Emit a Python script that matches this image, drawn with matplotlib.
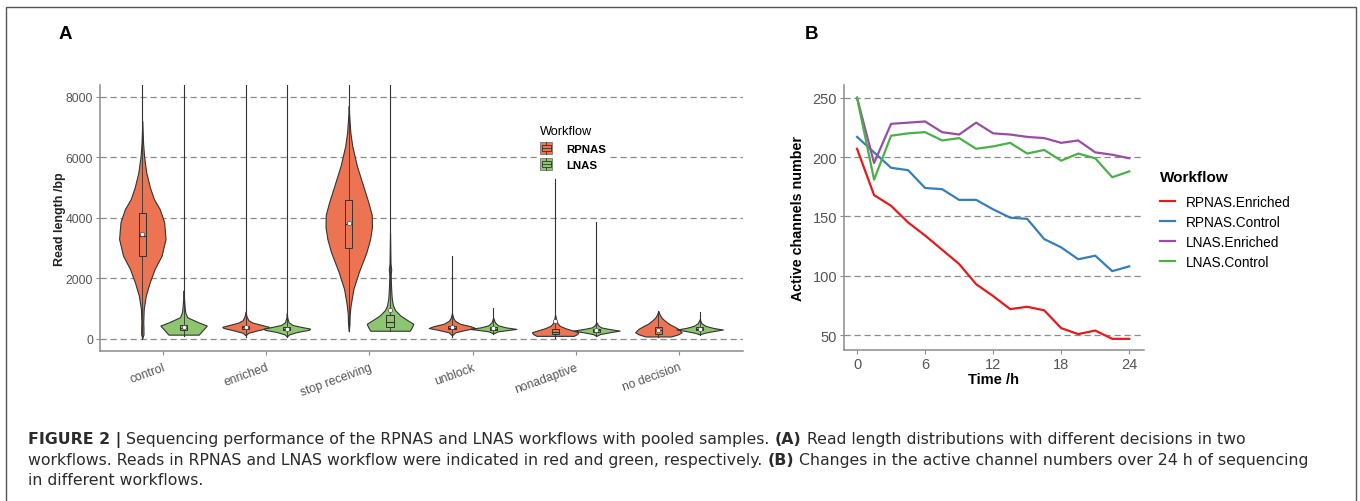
import matplotlib
matplotlib.use("Agg")
import matplotlib.pyplot as plt
from matplotlib.patches import Rectangle
from matplotlib.lines import Line2D
from matplotlib.legend_handler import HandlerBase

plt.rcParams['font.family'] = ['Liberation Sans', 'DejaVu Sans']

# ---- panel A: read length violins ----
categories = ["control", "enriched", "stop receiving", "unblock", "nonadaptive", "no decision"]

# violin outlines: (read length, relative half width)
control_rpnas = [(30, 0), (150, 0.05), (330, 0.05), (550, 0.04), (990, 0.06), (1430, 0.15), (1870, 0.32),
                 (2310, 0.53), (2750, 0.83), (3300, 1.0), (3860, 0.94), (4290, 0.75), (4620, 0.5),
                 (5000, 0.33), (5500, 0.17), (6000, 0.08), (6500, 0.03), (7200, 0)]
control_lnas = [(140, 0), (140, 0.65), (440, 1.0), (560, 0.6), (715, 0.16), (850, 0.08), (1000, 0.05),
                (1300, 0.02), (1600, 0)]
enriched_rpnas = [(120, 0), (200, 0.12), (280, 0.5), (360, 0.95), (400, 1.0), (460, 0.7), (540, 0.3),
                  (620, 0.12), (750, 0.04), (900, 0)]
enriched_lnas = [(80, 0), (150, 0.1), (230, 0.45), (300, 0.95), (340, 1.0), (400, 0.6), (460, 0.25),
                 (550, 0.08), (700, 0.02), (850, 0)]
stop_rpnas = [(250, 0), (500, 0.03), (800, 0.04), (1100, 0.08), (1650, 0.2), (2200, 0.43), (2860, 0.76),
              (3300, 0.92), (3700, 1.0), (4100, 0.99), (4500, 0.85), (5060, 0.62), (5720, 0.35),
              (6380, 0.15), (6820, 0.07), (7370, 0.02), (7700, 0)]
stop_lnas = [(270, 0), (270, 0.85), (400, 0.95), (500, 1.0), (620, 0.75), (770, 0.45), (950, 0.22),
             (1100, 0.13), (1300, 0.08), (1500, 0.06), (1800, 0.04), (2100, 0.03), (2300, 0.05),
             (2500, 0.02), (3000, 0.01), (3500, 0)]
unblock_rpnas = [(120, 0), (220, 0.15), (300, 0.6), (360, 1.0), (420, 0.8), (500, 0.35), (600, 0.13),
                 (700, 0.05), (850, 0)]
unblock_lnas = [(180, 0), (250, 0.2), (300, 0.7), (330, 1.0), (380, 0.55), (450, 0.2), (550, 0.07), (700, 0)]
nonadaptive_rpnas = [(100, 0), (100, 0.8), (160, 0.95), (220, 1.0), (280, 0.75), (350, 0.45), (430, 0.2),
                     (520, 0.1), (650, 0.04), (800, 0)]
nonadaptive_lnas = [(100, 0), (160, 0.15), (230, 0.65), (275, 1.0), (320, 0.6), (380, 0.2), (450, 0.07),
                    (550, 0)]
nodecision_rpnas = [(80, 0), (80, 0.55), (150, 0.85), (220, 1.0), (330, 0.86), (420, 0.65), (500, 0.45),
                    (600, 0.28), (700, 0.14), (800, 0.06), (920, 0)]
nodecision_lnas = [(150, 0), (200, 0.2), (260, 0.6), (310, 1.0), (360, 0.6), (430, 0.25), (520, 0.08),
                   (650, 0)]

rpnas_profiles = [control_rpnas, enriched_rpnas, stop_rpnas, unblock_rpnas, nonadaptive_rpnas, nodecision_rpnas]
lnas_profiles = [control_lnas, enriched_lnas, stop_lnas, unblock_lnas, nonadaptive_lnas, nodecision_lnas]

# line through each violin (whiskers + outliers)
rpnas_min = [10, 60, 250, 70, 40, 60]
rpnas_max = [9000, 9000, 9000, 2750, 5300, 920]
lnas_min = [100, 70, 250, 150, 90, 120]
lnas_max = [9000, 9000, 9000, 1010, 3850, 890]

# box statistics
rpnas_q1 = [2750, 320, 3000, 320, 160, 170]
rpnas_med = [3400, 380, 3800, 370, 240, 280]
rpnas_q3 = [4150, 440, 4600, 430, 340, 400]
rpnas_mean = [3450, 390, 3840, 380, 600, 310]
lnas_q1 = [300, 280, 380, 290, 240, 280]
lnas_med = [370, 330, 550, 330, 280, 320]
lnas_q3 = [450, 380, 800, 380, 330, 380]
lnas_mean = [400, 340, 940, 350, 290, 330]

# ---- panel B: active channels over time ----
time_h = [0, 1.5, 3, 4.5, 6, 7.5, 9, 10.5, 12, 13.5, 15, 16.5, 18, 19.5, 21, 22.5, 24]
rpnas_enriched = [207, 168, 159, 145, 134, 122, 110, 93, 83, 72, 74, 71, 56, 51, 54, 47, 47]
rpnas_control = [217, 204, 191, 189, 174, 173, 164, 164, 156, 149, 148, 131, 124, 114, 117, 104, 108]
lnas_enriched = [250, 195, 228, 229, 230, 221, 219, 229, 220, 219, 217, 216, 212, 214, 204, 202, 199]
lnas_control = [250, 181, 218, 220, 221, 214, 216, 207, 209, 212, 203, 206, 197, 203, 199, 183, 188]

RED = "#EC7452"
GREEN = "#8DC570"
EDGE = "#333333"
GRID = "#8a8a8a"
TICK = "#555555"
SPINE = "#8c8c8c"

W, H = 1360, 502
fig = plt.figure(figsize=(W / 100, H / 100), dpi=100)

# outer frame of the figure
fig.patches.append(Rectangle((6 / W, -0.02), 1350 / W, 1.02 - 8 / H, transform=fig.transFigure,
                             fill=False, edgecolor="#555555", lw=1.0))


def style_axes(ax, labelsize):
    for s in ["top", "right"]:
        ax.spines[s].set_visible(False)
    for s in ["left", "bottom"]:
        ax.spines[s].set_color(SPINE)
        ax.spines[s].set_linewidth(1.1)
    ax.tick_params(colors=SPINE, labelcolor=TICK, labelsize=labelsize, length=3, width=0.8, pad=2)
    ax.yaxis.grid(True, color=GRID, linestyle=(0, (5, 3)), linewidth=0.9)
    ax.set_axisbelow(True)


# ---------- A ----------
axA = fig.add_axes([100 / W, 1 - 352 / H, 643 / W, 266 / H])
style_axes(axA, 8.7)

half = 0.225
bw = 0.035
groups = [
    (-0.2, RED, rpnas_profiles, rpnas_min, rpnas_max, rpnas_q1, rpnas_med, rpnas_q3, rpnas_mean),
    (0.2, GREEN, lnas_profiles, lnas_min, lnas_max, lnas_q1, lnas_med, lnas_q3, lnas_mean),
]
for off, col, profs, tmin, tmax, q1, med, q3, mean in groups:
    for i, prof in enumerate(profs):
        xc = i + off
        ys = [p[0] for p in prof]
        ws = [p[1] * half for p in prof]
        axA.plot([xc, xc], [tmin[i], tmax[i]], color=EDGE, lw=0.8, zorder=2.5)
        axA.fill_betweenx(ys, [xc - w for w in ws], [xc + w for w in ws],
                          facecolor=col, edgecolor=EDGE, lw=0.8, zorder=3)
        axA.plot([xc, xc], [ys[0], ys[-1]], color=EDGE, lw=0.6, zorder=3.5)
        axA.bar(xc, q3[i] - q1[i], bottom=q1[i], width=2 * bw, color=col,
                edgecolor=EDGE, lw=0.7, zorder=4)
        axA.plot([xc - bw, xc + bw], [med[i], med[i]], color=EDGE, lw=0.8, zorder=4.5)
        axA.scatter([xc], [mean[i]], s=9, c="white", edgecolors=EDGE, linewidths=0.4, zorder=5)

axA.set_xlim(-0.61, 5.62)
axA.set_ylim(-400, 8390)
axA.set_yticks([0, 2000, 4000, 6000, 8000])
axA.set_xticks(range(len(categories)))
axA.set_xticklabels(categories, rotation=20, ha="right", rotation_mode="anchor")
axA.tick_params(axis="x", pad=4)
axA.set_ylabel("Read length /bp", fontsize=9, fontweight="bold", color="#222222", labelpad=0)


class BoxKey(HandlerBase):
    def create_artists(self, legend, orig_handle, xdescent, ydescent, width, height, fontsize, trans):
        fc = orig_handle.get_facecolor()
        x0, y0 = -xdescent, -ydescent
        outer = Rectangle((x0, y0), width, height, facecolor=fc, edgecolor="#777777", lw=0.6, transform=trans)
        whisk = Line2D([x0 + width / 2] * 2, [y0, y0 + height], color=EDGE, lw=0.6, transform=trans)
        box = Rectangle((x0 + width * 0.15, y0 + height * 0.22), width * 0.7, height * 0.56,
                        facecolor=fc, edgecolor=EDGE, lw=0.6, transform=trans)
        med = Line2D([x0 + width * 0.15, x0 + width * 0.85], [y0 + height / 2] * 2,
                     color=EDGE, lw=0.6, transform=trans)
        return [outer, whisk, box, med]


hA = [Rectangle((0, 0), 1, 1, facecolor=RED), Rectangle((0, 0), 1, 1, facecolor=GREEN)]
legA = fig.legend(hA, ["RPNAS", "LNAS"], handler_map={Rectangle: BoxKey()},
                  loc="upper left", bbox_to_anchor=(537 / W, 1 - 123 / H),
                  title="Workflow", title_fontsize=9.2, prop={"weight": "bold", "size": 8.2},
                  alignment="left", frameon=True, facecolor="white", edgecolor="none", fancybox=False,
                  handlelength=1.05, handleheight=1.2, handletextpad=1.2, labelspacing=0.4,
                  borderpad=0.3, borderaxespad=0)
legA.get_frame().set_alpha(1)

# ---------- B ----------
axB = fig.add_axes([844 / W, 1 - 351 / H, 300 / W, 265 / H])
style_axes(axB, 10.5)
series = [
    ("RPNAS.Enriched", rpnas_enriched, "#E41A1C"),
    ("RPNAS.Control", rpnas_control, "#377EB8"),
    ("LNAS.Enriched", lnas_enriched, "#984EA3"),
    ("LNAS.Control", lnas_control, "#4DAF4A"),
]
for name, vals, col in series:
    axB.plot(time_h, vals, color=col, lw=1.6, label=name, zorder=3)
axB.set_xlim(-1.15, 25.3)
axB.set_ylim(37.6, 260.7)
axB.set_xticks([0, 6, 12, 18, 24])
axB.set_yticks([50, 100, 150, 200, 250])
axB.set_xlabel("Time /h", fontsize=10.5, fontweight="bold", labelpad=1)
axB.set_ylabel("Active channels number", fontsize=10.3, fontweight="bold", labelpad=5)
legB = axB.legend(loc="upper left", bbox_to_anchor=(1157 / W, 1 - 168 / H),
                  bbox_transform=fig.transFigure, title="Workflow",
                  title_fontproperties={"weight": "bold", "size": 11}, fontsize=9.8,
                  alignment="left", frameon=False, handlelength=1.1, handletextpad=0.8,
                  labelspacing=0.45, borderpad=0.2, borderaxespad=0)
legB._legend_box.sep = 8

# panel letters
fig.text(65 / W, 1 - 35 / H, "A", fontsize=13.5, fontweight="bold", ha="center", va="center")
fig.text(812 / W, 1 - 35 / H, "B", fontsize=13.5, fontweight="bold", ha="center", va="center")

# ---------- caption ----------
cap_lines = [
    [("FIGURE 2 |", "bold"), (" Sequencing performance of the RPNAS and LNAS workflows with pooled samples. ", "normal"),
     ("(A)", "bold"), (" Read length distributions with different decisions in two", "normal")],
    [("workflows. Reads in RPNAS and LNAS workflow were indicated in red and green, respectively. ", "normal"),
     ("(B)", "bold"), (" Changes in the active channel numbers over 24 h of sequencing", "normal")],
    [("in different workflows.", "normal")],
]
cap_y = [440, 461, 481]
cap_font = "DejaVu Sans"
renderer = fig.canvas.get_renderer()

# pick the size so that the second line spans the same width as in the original
probe = 0
for txt, wt in cap_lines[1]:
    t = fig.text(0, 0, txt, fontsize=10, fontweight=wt, family=cap_font)
    probe += t.get_window_extent(renderer).width
    t.remove()
cap_size = 10 * 1277 / probe

for segs, yy in zip(cap_lines, cap_y):
    x = 28
    for txt, wt in segs:
        t = fig.text(x / W, 1 - yy / H, txt, fontsize=cap_size, fontweight=wt, color="#2b2b2b",
                     family=cap_font, ha="left", va="center")
        x += t.get_window_extent(renderer).width

fig.savefig("out.png", dpi=100)
